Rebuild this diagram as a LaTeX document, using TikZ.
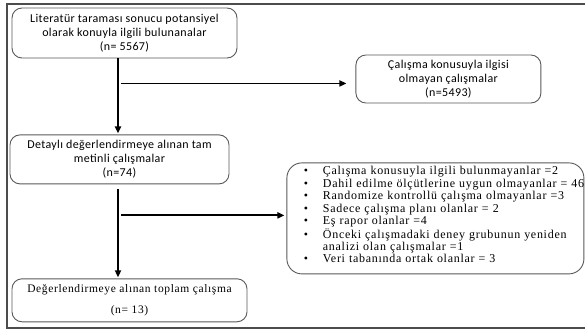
\documentclass[tikz,border=0pt]{standalone}
\usepackage{fontspec}
\setmainfont[LetterSpace=6]{Liberation Serif}
\newfontfamily\calibri[LetterSpace=3]{Carlito}
\newfontfamily\wideserif[LetterSpace=5.5]{Liberation Serif}
\usetikzlibrary{arrows.meta, positioning, calc}

\begin{document}
\begin{tikzpicture}[
    x=1pt, y=1pt,
    sbox/.style={rectangle, rounded corners=10pt, draw=black!65, line width=0.9pt,
                 align=center, inner sep=2pt,
                 font=\calibri\fontsize{12}{14}\selectfont},
    tbox/.style={rectangle, rounded corners=10pt, draw=black!65, line width=0.9pt,
                 align=center, inner sep=2pt,
                 font=\wideserif\fontsize{11.5}{21}\selectfont},
    lbox/.style={rectangle, rounded corners=15pt, draw=black!65, line width=0.9pt,
                 align=left, text width=263pt, inner xsep=17pt, inner ysep=2pt,
                 font=\fontsize{12}{12.4}\selectfont},
    frame/.style={draw=black!70, line width=1.1pt},
    conn/.style={-{Triangle[length=7pt, width=6pt]}, line width=1.8pt, black},
]

%% --- Page frame ---
\useasboundingbox (0,0) rectangle (585,-331);
\draw[frame] (7,-4) rectangle (600,-328);

%% --- Main column ---
\node[sbox, minimum width=225pt, minimum height=50pt] (lit) at (124.5,-33)
    {Literatür taraması sonucu potansiyel\\olarak konuyla ilgili bulunanalar\\(n= 5567)};

\node[sbox, minimum width=219pt, minimum height=49pt,
      below=76pt of lit.south west, anchor=north west, xshift=-2pt] (full)
    {Detaylı değerlendirmeye alınan tam\\metinli çalışmalar\\(n=74)};

\node[tbox, minimum width=235pt, minimum height=43pt,
      below=94pt of full.south west, anchor=north west, xshift=2pt] (total)
    {Değerlendirmeye alınan toplam çalışma\\(n= 13)};

%% --- Excluded studies ---
\node[sbox, minimum width=185pt, minimum height=48pt,
      right=118pt of lit.east, yshift=-46pt] (excl1)
    {Çalışma konusuyla ilgisi\\olmayan çalışmalar\\(n=5493)};

\node[lbox, minimum height=111pt, right=57pt of full.east, yshift=-59pt] (excl2)
{%
  \begin{tabular}{@{}p{19pt}@{}l@{}}
  \textbullet & Çalışma konusuyla ilgili bulunmayanlar =2\\
  \textbullet & Dahil edilme ölçütlerine uygun olmayanlar = 46\\
  \textbullet & Randomize kontrollü çalışma olmayanlar =3\\
  \textbullet & Sadece çalışma planı olanlar = 2\\
  \textbullet & Eş rapor olanlar =4\\
  \textbullet & Önceki çalışmadaki deney grubunun yeniden\\
              & analizi olan çalışmalar =1\\
  \textbullet & Veri tabanında ortak olanlar = 3\\[4pt]
  \end{tabular}%
};

%% --- Connectors ---
\coordinate (t1) at ([xshift=-6.5pt]lit.south);
\coordinate (b1) at ([yshift=-25pt]t1);
\draw[conn, shorten >=1pt] (t1) -- (t1 |- full.north);
\draw[conn] ([xshift=3pt]b1) -- ([xshift=-9pt]b1 -| excl1.west);

\coordinate (t2) at ([xshift=-1.5pt, yshift=-5pt]full.south);
\coordinate (b2) at ([yshift=-26pt]t2);
\draw[conn, shorten >=1pt] (t2) -- (t2 |- total.north);
\draw[conn] ([xshift=3pt]b2) -- ([xshift=-2pt]b2 -| excl2.west);

\end{tikzpicture}
\end{document}
